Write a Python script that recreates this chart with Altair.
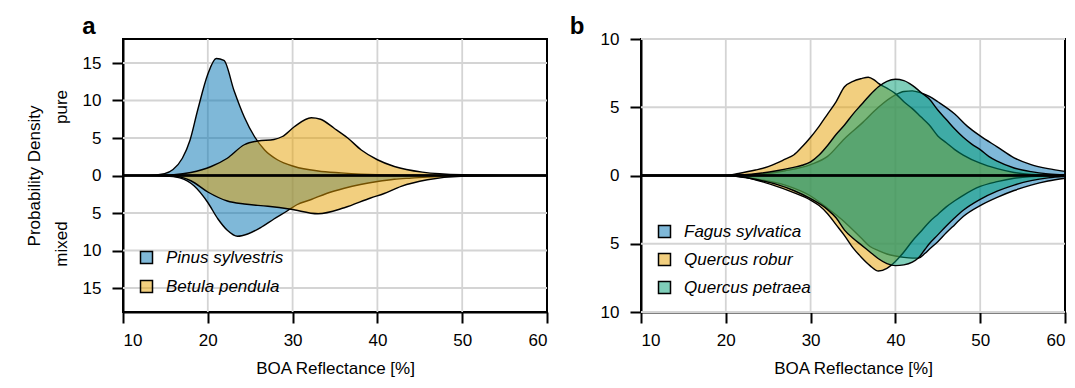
import altair as alt
import pandas as pd

FONT = "Liberation Sans"

# ---------------- Panel a data ----------------
pinus_pure_x = [10, 13, 14.9, 15.9, 17, 17.9, 18.8, 20, 21, 21.9, 23.1, 24.3, 25.5, 26.7, 28.2, 30.2, 33, 35.7, 40, 45, 50, 60]
pinus_pure_y = [0, 0.02, 0.25, 0.8, 2.3, 4.7, 8.7, 13.5, 15.6, 15.35, 11.3, 7.8, 5.2, 3.4, 2.1, 1.2, 0.6, 0.35, 0.1, 0.03, 0.01, 0]
pinus_mixed_x = [10, 14, 15.3, 16.8, 18.4, 20, 21.2, 22.3, 23.5, 24.7, 26.3, 27.8, 29.4, 30.5, 32.2, 34, 36.1, 38, 40, 42, 44, 47.9, 52, 60]
pinus_mixed_y = [0, 0.03, 0.1, 0.35, 1.4, 3.6, 5.8, 7.3, 8.1, 7.8, 6.9, 5.8, 4.7, 3.9, 3.2, 2.4, 1.7, 1.2, 0.8, 0.5, 0.35, 0.1, 0.03, 0]
betula_pure_x = [10, 14, 16, 18, 20.4, 22.3, 24.3, 25.9, 27.8, 28.8, 30.2, 32.2, 33.3, 34.9, 36.5, 38.1, 40, 42, 45.3, 50, 55, 60]
betula_pure_y = [0, 0.02, 0.1, 0.4, 1.2, 2.3, 4.1, 4.6, 4.8, 5.2, 6.5, 7.7, 7.5, 6.3, 5.0, 3.4, 2.1, 1.2, 0.45, 0.1, 0.02, 0]
betula_mixed_x = [10, 14, 16.4, 18, 20, 22.3, 24.3, 27.1, 29.8, 33, 36.1, 39.2, 40.8, 42.8, 45.9, 49.9, 55, 60]
betula_mixed_y = [0, 0.02, 0.15, 0.7, 2.2, 3.4, 3.8, 4.1, 4.5, 5.1, 4.3, 3.0, 2.4, 1.45, 0.57, 0.1, 0.02, 0]

# ---------------- Panel b data ----------------
fagus_pure_x = [10, 20, 24, 27, 30, 32, 34, 36, 38, 40, 41, 42, 43, 44, 45, 47, 48.5, 50, 52, 54, 56, 58, 60]
fagus_pure_y = [0, 0, 0.1, 0.35, 0.8, 1.4, 2.7, 3.8, 5.0, 5.9, 6.15, 6.2, 6.05, 5.8, 5.4, 4.5, 3.6, 2.9, 2.1, 1.3, 0.8, 0.5, 0.3]
robur_pure_x = [10, 20, 21.5, 23.5, 25, 26, 27, 28, 29, 30, 31, 32, 33, 34, 35, 36, 36.8, 37.5, 38, 39, 40, 41, 42, 43, 44, 45, 46, 47, 48, 50, 52, 54, 56, 60]
robur_pure_y = [0, 0, 0.15, 0.4, 0.65, 0.9, 1.2, 1.5, 2.1, 2.8, 3.6, 4.5, 5.4, 6.5, 6.9, 7.1, 7.2, 7.0, 6.75, 6.4, 6.0, 5.4, 4.9, 4.3, 3.7, 2.9, 2.4, 1.9, 1.5, 0.9, 0.5, 0.22, 0.08, 0]
petraea_pure_x = [10, 20, 23, 26, 28, 29, 30, 31, 32, 33, 34, 35, 36, 37, 38, 39, 40, 41, 42, 43, 44, 45, 46, 47, 48, 49, 50, 51, 52, 54, 56, 58, 60]
petraea_pure_y = [0, 0, 0.1, 0.35, 0.6, 0.75, 1.0, 1.5, 2.2, 3.0, 3.7, 4.5, 5.2, 5.9, 6.5, 6.9, 7.05, 6.95, 6.6, 6.1, 5.6, 4.8, 4.1, 3.4, 2.8, 2.3, 1.9, 1.4, 1.05, 0.55, 0.28, 0.12, 0.04]
fagus_mixed_x = [10, 20, 24, 27, 30, 32, 34, 36, 37, 38, 39, 40, 41, 42, 42.7, 43.5, 44, 45, 46, 47, 48, 50, 52, 54, 56, 58, 60]
fagus_mixed_y = [0, 0, 0.3, 0.7, 1.5, 2.4, 3.4, 4.6, 5.2, 5.5, 5.75, 5.9, 6.0, 6.05, 6.05, 5.7, 5.4, 4.85, 4.2, 3.6, 3.0, 2.2, 1.6, 1.1, 0.7, 0.4, 0.2]
robur_mixed_x = [10, 20, 22, 24, 26, 28, 30, 31, 32, 33, 34, 35, 36, 37, 38, 39, 40, 41, 42, 43, 44, 45, 46, 47, 48, 50, 52, 54, 56, 60]
robur_mixed_y = [0, 0, 0.1, 0.4, 0.8, 1.25, 1.8, 2.2, 2.8, 3.6, 4.4, 5.3, 6.0, 6.6, 7.0, 6.8, 6.3, 5.6, 4.8, 4.1, 3.4, 2.85, 2.3, 1.85, 1.45, 0.8, 0.45, 0.2, 0.08, 0]
petraea_mixed_x = [10, 20, 24, 26, 28, 30, 32, 33, 34, 35, 36, 37, 38, 39, 40, 41, 42, 42.7, 43.5, 44, 45, 46, 47, 48, 50, 52, 54, 56, 58, 60]
petraea_mixed_y = [0, 0, 0.35, 0.65, 1.1, 1.7, 2.5, 3.1, 4.0, 4.6, 5.1, 5.6, 6.1, 6.45, 6.6, 6.55, 6.35, 6.05, 5.4, 5.0, 4.35, 3.7, 3.1, 2.55, 1.75, 1.15, 0.7, 0.38, 0.17, 0.06]

species_a = ["Pinus sylvestris", "Betula pendula"]
colors_a = ["rgba(0,114,178,0.5)", "rgba(230,159,0,0.5)"]
species_b = ["Fagus sylvatica", "Quercus robur", "Quercus petraea"]
colors_b = ["rgba(0,114,178,0.5)", "rgba(230,159,0,0.5)", "rgba(0,158,115,0.5)"]

x_ticks = [10, 20, 30, 40, 50, 60]
y_ticks_a = [-15, -10, -5, 0, 5, 10, 15]
y_ticks_b = [-10, -5, 0, 5, 10]

H = 273
GRID = "#d4d4d4"


def frame(name, xs, ys, sign):
    return pd.DataFrame({"x": xs, "y": [sign * v for v in ys], "sp": [name] * len(xs)})


def panel(series, species, colors, ydom, yticks, legx, legy, letter, letter_x, ytitles, rowpad, width):
    xs = alt.Scale(domain=[10, 60], nice=False, zero=False)
    ys = alt.Scale(domain=ydom, nice=False)
    xaxis = alt.Axis(values=x_ticks, title="BOA Reflectance [%]", labelPadding=9, titlePadding=12, grid=False)
    yaxis = alt.Axis(values=yticks, title=None, labelExpr="toString(abs(datum.value))", labelPadding=11, grid=False)
    cscale = alt.Scale(domain=species, range=colors)
    legend = alt.Legend(orient="none", legendX=legx, legendY=legy, title=None, symbolType="square",
                        symbolSize=144, symbolStrokeColor="black", symbolStrokeWidth=1.5, symbolOpacity=1,
                        labelFontSize=17, labelFont=FONT, labelFontStyle="italic", labelColor="black",
                        labelOffset=11, rowPadding=rowpad, padding=0)
    layers = [
        alt.Chart(pd.DataFrame({"gx": x_ticks[1:-1]})).mark_rule(color=GRID, strokeWidth=1.8)
        .encode(x=alt.X("gx:Q", scale=xs, axis=xaxis)),
        alt.Chart(pd.DataFrame({"gy": [v for v in yticks if v != 0]})).mark_rule(color=GRID, strokeWidth=1.8)
        .encode(y=alt.Y("gy:Q", scale=ys, axis=yaxis)),
    ]
    for df in series:
        layers.append(
            alt.Chart(df).mark_area(interpolate="monotone", stroke="black", strokeWidth=1.4).encode(
                x=alt.X("x:Q", scale=xs, axis=xaxis),
                y=alt.Y("y:Q", scale=ys, axis=yaxis, stack=None),
                color=alt.Color("sp:N", scale=cscale, legend=legend),
            )
        )
    layers.append(alt.Chart(pd.DataFrame({"y": [0]})).mark_rule(color="black", strokeWidth=2.4).encode(y=alt.Y("y:Q", scale=ys, axis=yaxis)))
    layers.append(
        alt.Chart(pd.DataFrame({"t": [letter]})).mark_text(fontSize=24, fontWeight="bold", font=FONT, baseline="alphabetic", align="center", color="black")
        .encode(x=alt.value(letter_x), y=alt.value(-5), text="t:N")
    )
    for txt, tx, ty in ytitles:
        layers.append(
            alt.Chart(pd.DataFrame({"t": [txt]})).mark_text(fontSize=17, font=FONT, angle=270, baseline="middle", align="center", color="black")
            .encode(x=alt.value(tx), y=alt.value(ty), text="t:N")
        )
    return alt.layer(*layers).properties(width=width, height=H)


series_a = [
    frame("Pinus sylvestris", pinus_pure_x, pinus_pure_y, 1),
    frame("Pinus sylvestris", pinus_mixed_x, pinus_mixed_y, -1),
    frame("Betula pendula", betula_pure_x, betula_pure_y, 1),
    frame("Betula pendula", betula_mixed_x, betula_mixed_y, -1),
]
series_b = [
    frame("Fagus sylvatica", fagus_pure_x, fagus_pure_y, 1),
    frame("Fagus sylvatica", fagus_mixed_x, fagus_mixed_y, -1),
    frame("Quercus robur", robur_pure_x, robur_pure_y, 1),
    frame("Quercus robur", robur_mixed_x, robur_mixed_y, -1),
    frame("Quercus petraea", petraea_pure_x, petraea_pure_y, 1),
    frame("Quercus petraea", petraea_mixed_x, petraea_mixed_y, -1),
]

pa = panel(series_a, species_a, colors_a, [-18.2, 18.2], y_ticks_a, 15, 210, "a", -34,
           [("Probability Density", -88, 137), ("pure", -61, 68), ("mixed", -61, 205)], 10, 424)
pb = panel(series_b, species_b, colors_b, [-10, 10], y_ticks_b, 15, 184, "b", -64, [], 9, 424)

chart = alt.hconcat(pa, pb, spacing=17).resolve_scale(color="independent").properties(
    padding={"left": 25, "top": 14, "right": 0, "bottom": 5}, background="white"
).configure_axis(
    labelFont=FONT, titleFont=FONT, labelFontSize=17, titleFontSize=17, titleFontWeight="normal",
    labelColor="black", titleColor="black", domainColor="black", domainWidth=2,
    tickColor="black", tickWidth=2, tickSize=11,
).configure_view(stroke="black", strokeWidth=2)

chart.save("out.html", embed_options={"renderer": "svg", "actions": False})
